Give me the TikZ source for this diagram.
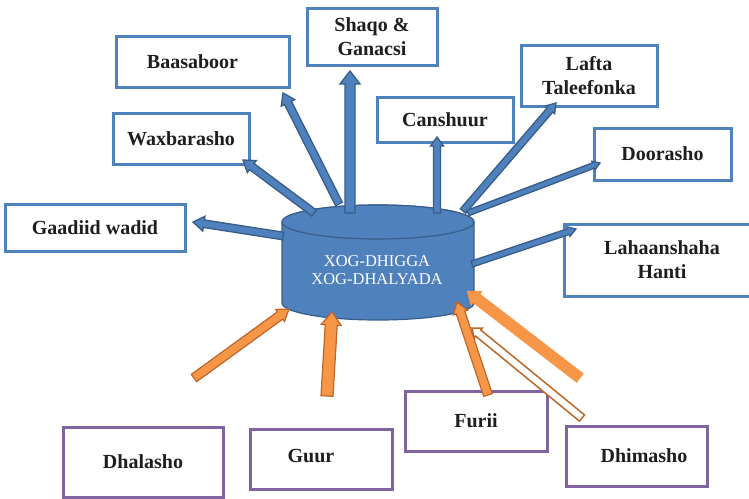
\documentclass[tikz,border=0pt]{standalone}
\usepackage{fontspec}
\setmainfont{Liberation Serif}
\usetikzlibrary{calc}
\definecolor{bfill}{HTML}{4F81BD}
\definecolor{bdark}{HTML}{385D8A}
\definecolor{pcol}{HTML}{8064A2}
\definecolor{ofill}{HTML}{F79646}
\definecolor{odark}{HTML}{C0652A}
\definecolor{obrown}{HTML}{B8692C}
\definecolor{txt}{HTML}{1E1E1E}
\newcommand\barrow[6]{%
  \path let \p1=(#2), \p2=(#3) in \pgfextra{%
    \pgfmathparse{atan2(\y2-\y1,\x2-\x1)}\xdef\BAang{\pgfmathresult}%
    \pgfmathparse{veclen(\x2-\x1,\y2-\y1)}\xdef\BAlen{\pgfmathresult}%
    \xdef\BAx{\x1}\xdef\BAy{\y1}};
  \draw[#1, shift={(\BAx,\BAy)}, rotate=\BAang, x=1pt, y=1pt]
    (0,-#4) -- ({\BAlen-#6},-#4) -- ({\BAlen-#6},-#5) -- (\BAlen,0)
    -- ({\BAlen-#6},#5) -- ({\BAlen-#6},#4) -- (0,#4) -- cycle;
}
\tikzset{
  bbox/.style={draw=bfill, line width=3pt, fill=white, text=txt,
    font=\bfseries\fontsize{20}{24}\selectfont, align=center, inner sep=0pt},
  pbox/.style={bbox, draw=pcol},
  blarrow/.style={fill=bfill, draw=bdark, line width=1.3pt, line join=miter},
  orarrow/.style={fill=ofill, draw=odark, line width=1.2pt, line join=miter},
  hollowarrow/.style={fill=white, draw=obrown, line width=1.5pt, line join=miter},
  thickarrow/.style={fill=ofill, draw=ofill, line width=0.5pt},
}
\begin{document}
\begin{tikzpicture}[x=1pt, y=-1pt]
\useasboundingbox (0,0) rectangle (749,498);
\clip (0,0) rectangle (749,498);
\fill[white] (0,0) rectangle (749,498);

% boxes
\node[bbox, minimum width=173pt, minimum height=51pt] (baas) at (202.5,61.5) {Baasaboor\hspace*{20pt}};
\node[bbox, minimum width=130pt, minimum height=57pt] (shaqo) at (372,36.5) {Shaqo \&\\Ganacsi};
\node[bbox, minimum width=136pt, minimum height=51pt] (wax) at (181,138.5) {Waxbarasho};
\node[bbox, minimum width=180pt, minimum height=47pt] (gaad) at (95,227.5) {\raisebox{-8pt}{Gaadiid wadid}};
\node[bbox, minimum width=136pt, minimum height=45pt] (cansh) at (445,119.5) {Canshuur};
\node[bbox, minimum width=136pt, minimum height=61pt] (lafta) at (589,75.5) {Lafta\\Taleefonka};
\node[bbox, minimum width=137pt, minimum height=52pt] (door) at (662.5,154) {Doorasho};
\node[bbox, minimum width=196pt, minimum height=72pt] (lah) at (662,260) {Lahaanshaha\\Hanti};

\node[pbox, minimum width=160pt, minimum height=70pt] (dhal) at (143,462) {Dhalasho};
\node[pbox, minimum width=142pt, minimum height=60pt] (guur) at (321,459) {\raisebox{7pt}{Guur}\hspace*{20pt}};
\node[pbox, minimum width=142pt, minimum height=60pt] (furii) at (476,421) {Furii};
\node[pbox, minimum width=141pt, minimum height=60pt] (dhim) at (636.5,456) {\hspace*{15pt}\raisebox{-7pt}{Dhimasho}};

% cylinder
\path[fill=bfill, draw=bdark, line width=1.2pt] (282,222) -- (282,303)
  arc[start angle=180, end angle=0, x radius=96, y radius=17] -- (474,222)
  arc[start angle=0, end angle=-180, x radius=96, y radius=17] -- cycle;
\draw[fill=bfill, draw=bdark, line width=1.2pt] (378,222) ellipse [x radius=96, y radius=17];
\node[text=white, font=\fontsize{16.5}{18}\selectfont, align=center] (db) at (377,270) {XOG-DHIGGA\\XOG-DHALYADA};

% arrow end points
\coordinate (a1s) at (283,236); \coordinate (a1e) at (193,222);
\coordinate (a2s) at (314,213); \coordinate (a2e) at (243,160);
\coordinate (a3s) at (339,204); \coordinate (a3e) at (283,93);
\coordinate (a4s) at (350,213); \coordinate (a4e) at (350,71);
\coordinate (a5s) at (437,213); \coordinate (a5e) at (437,137);
\coordinate (a6s) at (463,211); \coordinate (a6e) at (556,103);
\coordinate (a7s) at (468,213); \coordinate (a7e) at (600,163);
\coordinate (a8s) at (472,264); \coordinate (a8e) at (576,229);

\coordinate (o1s) at (194,378); \coordinate (o1e) at (289,309);
\coordinate (o2s) at (327,396); \coordinate (o2e) at (332,312);
\coordinate (o3s) at (488,395); \coordinate (o3e) at (457,302);
\coordinate (o4s) at (582,418); \coordinate (o4e) at (472,328);
\coordinate (o5s) at (580,378); \coordinate (o5e) at (467,291);

% blue arrows
\barrow{blarrow}{a1s}{a1e}{3.8}{7.5}{11}
\barrow{blarrow}{a2s}{a2e}{3.8}{7.5}{11}
\barrow{blarrow}{a3s}{a3e}{3.8}{7.5}{11}
\barrow{blarrow}{a4s}{a4e}{5}{10}{13}
\barrow{blarrow}{a5s}{a5e}{3.5}{6.5}{9}
\barrow{blarrow}{a6s}{a6e}{3.5}{6}{9}
\barrow{blarrow}{a7s}{a7e}{2.8}{4.5}{7}
\barrow{blarrow}{a8s}{a8e}{3}{5}{8}

% orange arrows
\barrow{orarrow}{o1s}{o1e}{4.5}{7.5}{11}
\barrow{orarrow}{o2s}{o2e}{6}{10}{13}
\barrow{thickarrow}{o5s}{o5e}{5.5}{9}{12}
\barrow{hollowarrow}{o4s}{o4e}{4}{6.5}{8}
\barrow{orarrow}{o3s}{o3e}{4.5}{7.5}{11}
\end{tikzpicture}
\end{document}
